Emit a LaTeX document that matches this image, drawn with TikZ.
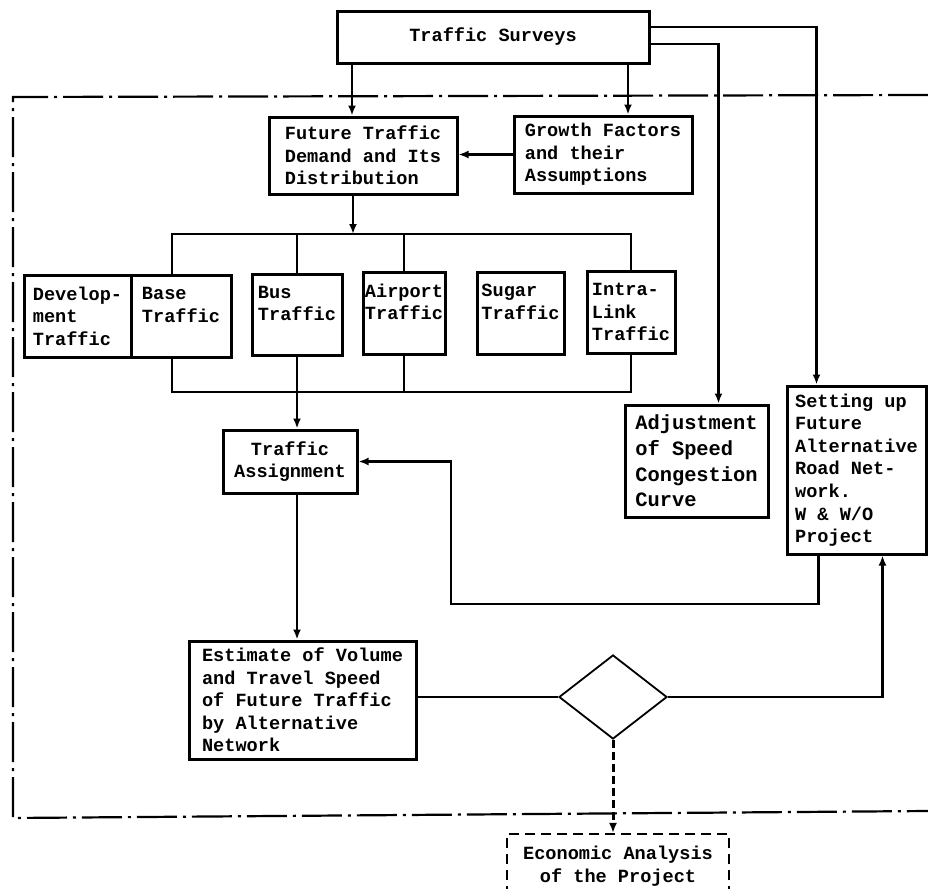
\documentclass[tikz,border=0pt]{standalone}
\usepackage{fontspec}
\newfontfamily\twfont{Liberation Mono}
\usetikzlibrary{arrows.meta, shapes.geometric}

\tikzset{
  box/.style={draw, line width=1.5pt, inner sep=0pt, align=left,
    font=\twfont\bfseries\fontsize{9.3}{11.3}\selectfont},
  bigbox/.style={box, font=\twfont\bfseries\fontsize{10.2}{12.8}\selectfont},
  link/.style={line width=1.1pt},
  arr/.style={link, -{Latex[length=5pt,width=4pt]}},
  frame/.style={line width=1.1pt, dash pattern=on 20pt off 3pt on 1.5pt off 3pt},
  dashlink/.style={line width=1.5pt, dash pattern=on 4pt off 2pt, -{Latex[length=5pt,width=4pt]}},
}

\begin{document}
\begin{tikzpicture}[x=0.5pt, y=-0.5pt]
  \useasboundingbox (0,0) rectangle (928,889);
  % dash-dot frame round the model loop
  \draw[frame] (928,95) -- (13,97) -- (13,818) -- (928,811);

  % boxes
  \node[box, align=center, minimum width=156pt, minimum height=26pt] (ts) at (493,37) {Traffic Surveys};
  \node[box, minimum width=94pt, minimum height=38.5pt] (future) at (363,155.5) {Future Traffic\\Demand and Its\\Distribution};
  \node[box, minimum width=89pt, minimum height=38.5pt] (growth) at (603,154.5) {Growth Factors\\and their\\Assumptions};

  \node[box, minimum width=53.5pt, minimum height=41pt] (dev) at (77.5,316) {Develop-\\ment\\Traffic};
  \node[box, minimum width=50pt, minimum height=41pt] (base) at (181,316) {Base\\Traffic\\~};
  \node[box, minimum width=45pt, minimum height=40.5pt] (bus) at (297,314.5) {Bus\\Traffic\\~};
  \node[box, minimum width=41pt, minimum height=41pt] (airport) at (404,313) {Airport\\Traffic\\~};
  \node[box, minimum width=43.5pt, minimum height=41pt] (sugar) at (520.5,313) {Sugar\\Traffic\\~};
  \node[box, minimum width=44pt, minimum height=41pt] (intra) at (631,312) {Intra-\\Link\\Traffic};

  \node[box, align=center, minimum width=67pt, minimum height=31.5pt] (assign) at (290,461.5) {Traffic\\Assignment};
  \node[bigbox, minimum width=71.5pt, minimum height=56pt] (adjust) at (696.5,461) {Adjustment\\of Speed\\Congestion\\Curve};
  \node[box, minimum width=69.5pt, minimum height=84pt] (setup) at (856.5,470) {Setting up\\Future\\Alternative\\Road Net-\\work.\\W \& W/O\\Project};

  \node[box, minimum width=113.5pt, minimum height=59pt] (estimate) at (302.5,700) {Estimate of Volume\\and Travel Speed\\of Future Traffic\\by Alternative\\Network};
  \node[diamond, draw, line width=0.9pt, inner sep=0pt, minimum width=54pt, minimum height=42pt] (dia) at (613,697) {};
  \node[box, align=center, line width=1.1pt, dash pattern=on 5pt off 3pt, minimum width=111pt, minimum height=32pt] (econ) at (618,866) {Economic Analysis\\of the Project};

  % connectors
  \coordinate (split) at (353,234);
  \coordinate (merge) at (299,392);
  \coordinate (loop) at (451,604);
  \draw[arr] ([xshift=-5.5pt]future.north |- ts.south) -- ([xshift=-5.5pt]future.north);
  \draw[arr] ([xshift=12.5pt]growth.north |- ts.south) -- ([xshift=12.5pt]growth.north);
  \draw[arr] (growth.west) -- (growth.west -| future.east);
  \draw[arr] (future.south -| split) -- (split);
  \draw[link] ([xshift=-4.5pt]base.north) |- (split) -| (intra.north);
  \draw[link] (bus.north |- split) -- (bus.north);
  \draw[link] (airport.north |- split) -- (airport.north);
  \draw[link] ([xshift=-4.5pt]base.south) |- (merge) -| (intra.south);
  \draw[link] (airport.south) -- (airport.south |- merge);
  \draw[arr] (bus.south) -- (bus.south |- assign.north);
  \draw[arr] (assign.south -| bus.south) -- (estimate.north -| bus.south);
  \draw[arr] ([yshift=5pt]ts.east) -| ([xshift=-20pt]setup.north);
  \draw[arr] ([yshift=-3.5pt]ts.east) -| ([xshift=11pt]adjust.north);
  \draw[arr] ([xshift=-19pt]setup.south) |- (loop) |- (assign.east);
  \draw[link] (estimate.east |- dia.west) -- (dia.west);
  \draw[arr] (dia.east) -| ([xshift=13pt]setup.south);
  \draw[dashlink] (dia.south) -- (dia.south |- econ.north);
\end{tikzpicture}
\end{document}
